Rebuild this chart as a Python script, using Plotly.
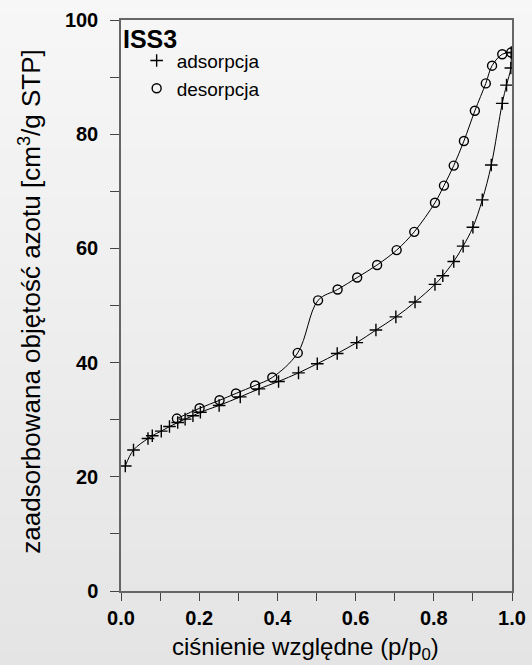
import plotly.graph_objects as go

# --- data ---
ads_x = [0.011, 0.032, 0.069, 0.080, 0.103, 0.124, 0.145, 0.164, 0.184, 0.203,
         0.251, 0.305, 0.353, 0.403, 0.454, 0.502, 0.553, 0.603, 0.652, 0.703,
         0.752, 0.803, 0.823, 0.851, 0.875, 0.900, 0.924, 0.947, 0.975, 0.986,
         0.997, 0.998]
ads_y = [21.9, 24.7, 26.7, 27.2, 28.0, 28.8, 29.5, 30.1, 30.7, 31.3,
         32.5, 34.0, 35.4, 36.7, 38.2, 39.8, 41.6, 43.5, 45.7, 48.0,
         50.6, 53.7, 55.2, 57.7, 60.4, 63.7, 68.5, 74.6, 85.4, 88.6,
         91.6, 94.3]

des_x = [0.998, 0.975, 0.949, 0.933, 0.905, 0.877, 0.851, 0.826, 0.803, 0.750,
         0.705, 0.655, 0.604, 0.554, 0.504, 0.452, 0.387, 0.343, 0.294, 0.252,
         0.201, 0.143]
des_y = [94.3, 94.0, 92.0, 88.9, 84.1, 78.8, 74.5, 71.0, 68.0, 62.9,
         59.7, 57.1, 54.9, 52.8, 50.9, 41.7, 37.4, 36.0, 34.6, 33.4,
         32.0, 30.2]

x_ticks = [0.0, 0.2, 0.4, 0.6, 0.8, 1.0]
x_ticklabels = ["0.0", "0.2", "0.4", "0.6", "0.8", "1.0"]
y_ticks = [0, 20, 40, 60, 80, 100]
y_ticklabels = ["0", "20", "40", "60", "80", "100"]

sample_name = "ISS3"
series_names = ["adsorpcja", "desorpcja"]
x_title = "ciśnienie względne (p/p<sub>0</sub>)"
y_title = "zaadsorbowana objętość azotu [cm<sup>3</sup>/g STP]"

FONT = "Liberation Sans, Arial, sans-serif"

fig = go.Figure()

# smooth curves
for xs, ys in ((ads_x, ads_y), (des_x, des_y)):
    fig.add_trace(go.Scatter(x=xs, y=ys, mode="lines",
                             line=dict(color="black", width=1, shape="spline", smoothing=1.0),
                             showlegend=False, hoverinfo="skip"))
# markers
fig.add_trace(go.Scatter(x=ads_x, y=ads_y, mode="markers", name=series_names[0],
                         marker=dict(symbol="cross-thin", size=9, color="black",
                                     line=dict(color="black", width=1.4))))
fig.add_trace(go.Scatter(x=des_x, y=des_y, mode="markers", name=series_names[1],
                         marker=dict(symbol="circle-open", size=9, color="black",
                                     line=dict(color="black", width=1.4))))

# background gradient bands (paper coords spanning the whole canvas)
n = 40
top, bot = 1.04, -0.135
c_top, c_bot = 247, 228
shapes = []
for i in range(n):
    y0 = top - (top - bot) * i / n
    y1 = top - (top - bot) * (i + 1) / n
    c = round(c_top + (c_bot - c_top) * (i + 0.5) / n)
    shapes.append(dict(type="rect", xref="paper", yref="paper",
                       x0=-0.4, x1=1.2, y0=y1, y1=y0 + 0.001,
                       fillcolor=f"rgb({c},{c},{c})", line=dict(width=0),
                       layer="below"))

fig.update_layout(
    width=532, height=665,
    margin=dict(l=121, r=20, t=20, b=74, autoexpand=False),
    paper_bgcolor="rgb(238,238,238)",
    plot_bgcolor="rgba(0,0,0,0)",
    shapes=shapes,
    font=dict(family=FONT, color="black"),
    showlegend=True,
    legend=dict(x=0.040, y=0.962, xanchor="left", yanchor="top",
                bgcolor="rgba(0,0,0,0)", font=dict(size=19, family=FONT),
                tracegroupgap=0, itemwidth=30),
    annotations=[
        dict(text=f"<b>{sample_name}</b>", xref="paper", yref="paper",
             x=0.0, y=0.967, xanchor="left", yanchor="middle",
             showarrow=False, font=dict(size=25, family=FONT)),
        dict(text=x_title, xref="paper", yref="paper",
             x=0.472, y=-0.101, xanchor="center", yanchor="middle",
             showarrow=False, font=dict(size=24, family=FONT)),
        dict(text=y_title, xref="paper", yref="paper", textangle=-90,
             x=-0.2337, y=0.506, xanchor="center", yanchor="middle",
             showarrow=False, font=dict(size=26, family=FONT)),
    ],
)

fig.update_xaxes(
    range=[0, 1], tickvals=x_ticks, ticktext=x_ticklabels, automargin=False,
    ticks="outside", ticklen=8, tickcolor="#444", tickwidth=1,
    minor=dict(dtick=0.1, tick0=0, ticks="outside", ticklen=8, tickcolor="#444", tickwidth=1),
    showline=True, linecolor="#666", linewidth=1.5, mirror=True,
    showgrid=False, zeroline=False, ticklabelstandoff=0,
    tickfont=dict(size=20, family=FONT, weight="bold"),
)
fig.update_yaxes(
    range=[0, 100], tickvals=y_ticks, ticktext=y_ticklabels, automargin=False,
    ticks="outside", ticklen=9, tickcolor="#444", tickwidth=1,
    minor=dict(dtick=10, tick0=0, ticks="outside", ticklen=9, tickcolor="#444", tickwidth=1),
    showline=True, linecolor="#666", linewidth=1.5, mirror=True,
    showgrid=False, zeroline=False, ticklabelstandoff=8,
    tickfont=dict(size=20, family=FONT, weight="bold"),
)

fig.write_html("out.html", config={"displayModeBar": False},
               post_script="document.body.style.margin='0';")
